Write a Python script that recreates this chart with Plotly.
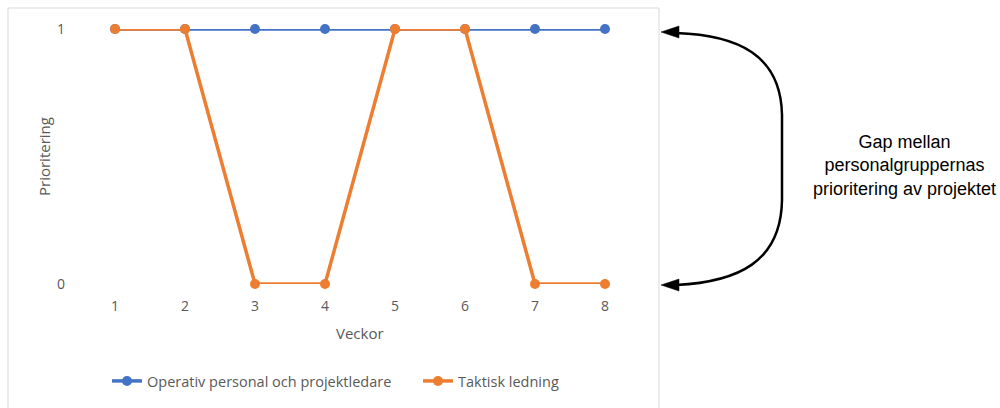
import plotly.graph_objects as go

# Weekly prioritisation (1 = prioritised, 0 = not prioritised)
weeks = [1, 2, 3, 4, 5, 6, 7, 8]
operativ = [1, 1, 1, 1, 1, 1, 1, 1]
taktisk = [1, 1, 0, 0, 1, 1, 0, 0]
series_names = ["Operativ personal och projektledare", "Taktisk ledning"]
colors = ["#4472C4", "#ED7D31"]

W, H = 1000, 408
L, R, T, B = 80, 360, 29, 124
PW, PH = W - L - R, H - T - B


def px(x):
    return (x - L) / PW


def py(y):
    return (H - B - y) / PH


grey_text = "#595959"
font_main = "Open Sans"

fig = go.Figure()
for vals, name, col, lg in zip([operativ, taktisk], series_names, colors,
                               ["legend", "legend2"]):
    fig.add_trace(go.Scatter(
        x=weeks, y=vals, name=name, mode="lines+markers",
        line=dict(color=col, width=3.5),
        marker=dict(color=col, size=10),
        cliponaxis=False, legend=lg,
    ))

shapes = [
    # chart area border
    dict(type="rect", xref="paper", yref="paper",
         x0=px(8), x1=px(659), y0=py(420), y1=py(8),
         line=dict(color="#D9D9D9", width=1), layer="below"),
]

# curved double-headed bracket arrow
path = (f"M {px(676)},{py(33)} "
        f"C {px(738)},{py(35)} {px(781)},{py(55)} {px(782)},{py(115)} "
        f"L {px(782)},{py(200)} "
        f"C {px(781)},{py(262)} {px(738)},{py(282)} {px(676)},{py(285)}")
shapes.append(dict(type="path", xref="paper", yref="paper", path=path,
                   line=dict(color="black", width=2.5)))
for ty in (32, 285):
    tri = (f"M {px(661)},{py(ty)} L {px(679)},{py(ty - 6)} "
           f"L {px(679)},{py(ty + 6)} Z")
    shapes.append(dict(type="path", xref="paper", yref="paper", path=tri,
                       fillcolor="black", line=dict(color="black", width=0.5)))

annotations = [
    dict(text="Veckor", xref="paper", yref="paper", x=px(360), y=py(333),
         xanchor="center", yanchor="middle", showarrow=False,
         font=dict(size=15, color=grey_text, family=font_main)),
    dict(text="Prioritering", xref="paper", yref="paper", x=px(44), y=py(157),
         xanchor="center", yanchor="middle", textangle=-90, showarrow=False,
         font=dict(size=15, color=grey_text, family=font_main)),
    dict(text="Gap mellan<br>personalgruppernas<br>prioritering av projektet",
         xref="paper", yref="paper", x=px(904), y=py(165),
         xanchor="center", yanchor="middle", showarrow=False, align="center",
         font=dict(size=18, color="black", family="Liberation Sans")),
]

legend_style = dict(orientation="h", xanchor="left", yanchor="middle",
                    y=py(381), bgcolor="rgba(0,0,0,0)",
                    font=dict(size=14.5, color=grey_text, family=font_main))

fig.update_layout(
    width=W, height=H,
    margin=dict(l=L, r=R, t=T, b=B, autoexpand=False),
    paper_bgcolor="white", plot_bgcolor="white",
    showlegend=True,
    legend=dict(x=px(107), **legend_style),
    legend2=dict(x=px(418), **legend_style),
    shapes=shapes,
    annotations=annotations,
    xaxis=dict(range=[0.5, 8.5], tickvals=weeks, showgrid=False,
               zeroline=False, showline=False, ticks="",
               ticklabelstandoff=12,
               tickfont=dict(size=14, color=grey_text, family=font_main)),
    yaxis=dict(range=[0, 1], tickvals=[0, 1], showgrid=True,
               gridcolor="#D9D9D9", gridwidth=1, zeroline=False,
               showline=False, ticks="", ticklabelstandoff=14,
               tickfont=dict(size=14, color=grey_text, family=font_main)),
)

fig.write_html("out.html")
